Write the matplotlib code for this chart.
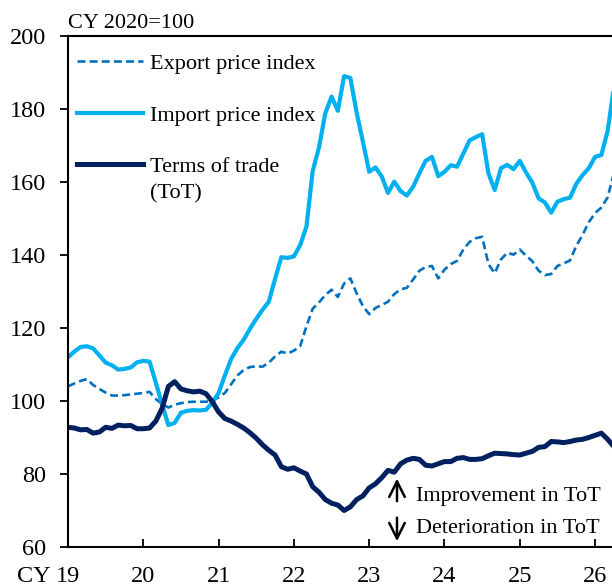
import numpy as np
import matplotlib
matplotlib.use("Agg")
import matplotlib.pyplot as plt
from matplotlib.lines import Line2D

plt.rcParams['font.family'] = ['Liberation Serif', 'DejaVu Serif']

# monthly values, Jan 2019 onwards (CY 2020 = 100)
export_idx = [104.0, 104.8, 105.5, 106.0, 104.4, 103.3, 102.3, 101.5, 101.5, 101.6,
              101.8, 102.0, 102.2, 102.5, 100.5, 99.2, 98.2, 99.0, 99.4, 99.7,
              99.8, 99.8, 99.8, 100.1, 101.0, 102.2, 104.6, 107.0, 108.5, 109.3,
              109.5, 109.4, 110.5, 112.2, 113.5, 113.0, 113.8, 115.0, 120.5, 125.3,
              127.0, 129.0, 130.5, 128.5, 132.2, 133.6, 129.5, 126.0, 123.8, 125.5,
              126.3, 127.2, 129.3, 130.6, 131.0, 133.3, 135.7, 136.7, 137.0, 133.6,
              136.0, 137.5, 138.4, 141.5, 143.6, 144.6, 145.0, 137.5, 135.0, 138.8,
              140.6, 140.1, 141.5, 139.8, 138.3, 135.7, 134.5, 134.8, 137.0, 137.7,
              138.5, 142.5, 145.5, 149.0, 151.5, 153.0, 155.8, 162.5]
import_idx = [112.0, 113.5, 114.8, 115.0, 114.4, 112.5, 110.5, 109.8, 108.6, 108.8,
              109.2, 110.6, 111.0, 110.8, 105.0, 99.0, 93.4, 94.0, 96.8, 97.3,
              97.5, 97.4, 97.6, 99.5, 102.2, 107.0, 111.5, 114.5, 116.8, 119.8,
              122.5, 125.0, 127.2, 133.5, 139.4, 139.2, 139.6, 142.7, 147.8, 163.0,
              169.5, 178.8, 183.4, 179.5, 189.0, 188.5, 179.0, 171.0, 162.8, 164.0,
              161.5, 157.0, 160.1, 157.5, 156.3, 158.7, 162.4, 165.8, 166.9, 161.6,
              162.8, 164.6, 164.2, 167.8, 171.4, 172.3, 173.1, 162.4, 157.8, 163.8,
              164.7, 163.5, 165.8, 162.6, 159.8, 155.5, 154.4, 151.6, 154.6, 155.3,
              155.7, 159.5, 161.9, 163.8, 166.9, 167.4, 174.0, 186.0]
tot_idx = [92.8, 92.6, 92.1, 92.2, 91.2, 91.5, 92.8, 92.5, 93.4, 93.2,
           93.3, 92.4, 92.4, 92.6, 94.5, 98.0, 104.0, 105.3, 103.3, 102.8,
           102.5, 102.7, 102.0, 99.8, 97.0, 95.2, 94.5, 93.6, 92.6, 91.3,
           89.8, 88.0, 86.5, 85.2, 82.0, 81.3, 81.7, 80.8, 80.0, 76.5,
           75.0, 73.0, 72.0, 71.5, 70.0, 71.0, 73.0, 74.0, 76.2, 77.3,
           79.0, 81.0, 80.5, 82.8, 83.8, 84.3, 84.0, 82.4, 82.2, 82.8,
           83.4, 83.4, 84.3, 84.5, 84.0, 84.0, 84.2, 85.0, 85.7, 85.6,
           85.5, 85.3, 85.2, 85.7, 86.2, 87.3, 87.5, 88.9, 88.8, 88.6,
           88.9, 89.3, 89.5, 90.0, 90.6, 91.2, 89.5, 87.5]

years = list(range(2019, 2027))
year_labels = ['19', '20', '21', '22', '23', '24', '25', '26']

c_exp = '#0070C0'
c_imp = '#00B0F0'
c_tot = '#002060'

x = 2019 + np.arange(len(tot_idx)) / 12.0

fig = plt.figure(figsize=(6.12, 5.86), dpi=100)
ax = fig.add_axes([68/612, 39/586, 544/612, 511/586])

ax.plot(x, export_idx, color=c_exp, lw=1.9, ls=(0, (3, 1.6)))
ax.plot(x, import_idx, color=c_imp, lw=3.0, solid_joinstyle='round')
ax.plot(x, tot_idx, color=c_tot, lw=3.6, solid_joinstyle='round')

ax.set_xlim(2019, 2019 + 544/75.3)
ax.set_ylim(60, 200)
ax.set_yticks(range(60, 201, 20))
ax.set_xticks(years)
ax.set_xticklabels(year_labels)

for s in ['left', 'bottom', 'top']:
    ax.spines[s].set_linewidth(1.5)
ax.spines['right'].set_visible(False)
ax.tick_params(axis='y', direction='out', length=6, width=1.3, pad=10, labelsize=17.5)
ax.tick_params(axis='x', direction='in', length=6, width=1.3, pad=14, labelsize=17.5)

ax.text(0, 1.006, 'CY 2020=100', transform=ax.transAxes, fontsize=16,
        ha='left', va='bottom')

handles = [Line2D([], [], color=c_exp, lw=1.9, ls=(0, (3, 1.6))),
           Line2D([], [], color=c_imp, lw=3.0),
           Line2D([], [], color=c_tot, lw=3.6)]
leg = ax.legend(handles, ['Export price index', 'Import price index', 'Terms of trade'],
                loc='upper left', bbox_to_anchor=(0.016, 0.966), frameon=False,
                fontsize=16, borderpad=0, borderaxespad=0, handlelength=3.0,
                handletextpad=0.3, labelspacing=1.4)

# arrows for improvement / deterioration
ax_x = 2019 + (397 - 68) / 75.3
tx = 2019 + (416 - 68) / 75.3
ax.annotate('', xy=(ax_x, 79.5), xytext=(ax_x, 71.8),
            arrowprops=dict(arrowstyle='->', lw=1.8, color='black', mutation_scale=28))
ax.annotate('', xy=(ax_x, 60.8), xytext=(ax_x, 68.8),
            arrowprops=dict(arrowstyle='->', lw=1.8, color='black', mutation_scale=28))
ax.text(tx, 73.8, 'Improvement in ToT', fontsize=16, va='center', ha='left')
ax.text(tx, 65.0, 'Deterioration in ToT', fontsize=16, va='center', ha='left')

# lay out once so "CY" and "(ToT)" can hang off other texts
fig.canvas.draw()
lab0 = ax.get_xticklabels()[0]
ax.annotate('CY ', xy=(0, 0), xycoords=lab0, ha='right', va='bottom',
            fontsize=17.5, annotation_clip=False)
ax.annotate('(ToT)', xy=(0, 0), xycoords=leg.get_texts()[2], xytext=(0, -5),
            textcoords='offset points', ha='left', va='top', fontsize=16)

plt.savefig('out.png', dpi=100)
